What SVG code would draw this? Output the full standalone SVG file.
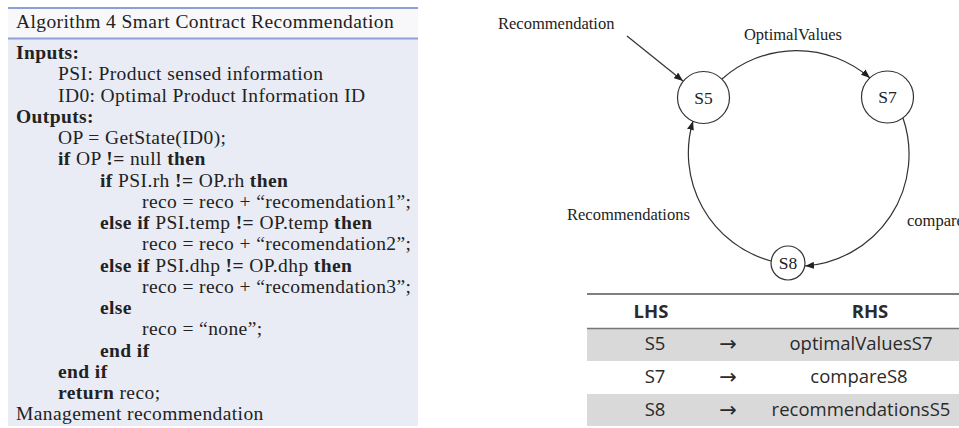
<svg xmlns="http://www.w3.org/2000/svg" width="959" height="428" viewBox="0 0 959 428">
  <style>
    .alg { font-family: "Liberation Serif", "Times New Roman", serif; font-size: 19.5px; letter-spacing: 0.4px; fill: #222; }
    .b { font-weight: bold; }
    .rule { stroke: #8c9fd6; stroke-width: 2; }
    .node circle { fill: #fff; stroke: #333; stroke-width: 1.2; }
    .lbl { font-family: "Liberation Serif", "Times New Roman", serif; font-size: 16.5px; fill: #222; }
    .state { font-family: "Liberation Serif", "Times New Roman", serif; font-size: 17.5px; fill: #222; text-anchor: middle; }
    .conn { fill: none; stroke: #333; stroke-width: 1.2; }
    .tbl { font-family: "Open Sans", "DejaVu Sans", sans-serif; font-size: 18.5px; fill: #2a2a2a; text-anchor: middle; }
    .arr { font-family: "DejaVu Sans", sans-serif; font-size: 21px; fill: #2a2a2a; text-anchor: middle; }
  </style>
  <defs>
    <marker id="arrow" markerWidth="9" markerHeight="7" refX="9" refY="3.5" orient="auto" markerUnits="userSpaceOnUse">
      <path d="M0,0 L9,3.5 L0,7 z" fill="#222"/>
    </marker>
  </defs>

  <rect width="959" height="428" fill="#fff"/>

  <!-- Algorithm box -->
  <g id="algorithm">
    <rect x="8" y="8" width="410" height="31" fill="#f8f8fa"/>
    <rect x="8" y="39" width="410" height="387" fill="#e9ecf5"/>
    <line class="rule" x1="8" y1="8" x2="418" y2="8"/>
    <line class="rule" x1="8" y1="38.5" x2="418" y2="38.5"/>
    <text class="alg" x="16" y="28">Algorithm 4 Smart Contract Recommendation</text>
    <text class="alg b" x="16" y="59">Inputs:</text>
    <text class="alg" x="58" y="80.25">PSI: Product sensed information</text>
    <text class="alg" x="58" y="101.5">ID0: Optimal Product Information ID</text>
    <text class="alg b" x="16" y="122.75">Outputs:</text>
    <text class="alg" x="58" y="144">OP = GetState(ID0);</text>
    <text class="alg" x="58" y="165.25"><tspan class="b">if</tspan> OP <tspan class="b">!=</tspan> null <tspan class="b">then</tspan></text>
    <text class="alg" x="100" y="186.5"><tspan class="b">if</tspan> PSI.rh <tspan class="b">!=</tspan> OP.rh <tspan class="b">then</tspan></text>
    <text class="alg" x="142" y="207.75">reco = reco + “recomendation1”;</text>
    <text class="alg" x="100" y="229"><tspan class="b">else if</tspan> PSI.temp <tspan class="b">!=</tspan> OP.temp <tspan class="b">then</tspan></text>
    <text class="alg" x="142" y="250.25">reco = reco + “recomendation2”;</text>
    <text class="alg" x="100" y="271.5"><tspan class="b">else if</tspan> PSI.dhp <tspan class="b">!=</tspan> OP.dhp <tspan class="b">then</tspan></text>
    <text class="alg" x="142" y="292.75">reco = reco + “recomendation3”;</text>
    <text class="alg b" x="100" y="314">else</text>
    <text class="alg" x="142" y="335.25">reco = “none”;</text>
    <text class="alg b" x="100" y="356.5">end if</text>
    <text class="alg b" x="58" y="377.75">end if</text>
    <text class="alg" x="58" y="399"><tspan class="b">return</tspan> reco;</text>
    <text class="alg" x="16" y="420.25">Management recommendation</text>
  </g>

  <!-- State machine connectors -->
  <g id="connectors">
    <line class="conn" x1="627" y1="36" x2="683" y2="81" marker-end="url(#arrow)"/>
    <path class="conn" d="M722,79 A112,112 0 0 1 870,78" marker-end="url(#arrow)"/>
    <path class="conn" d="M903,118 A112,112 0 0 1 805,266" marker-end="url(#arrow)"/>
    <path class="conn" d="M771,261 A112,112 0 0 1 693,121" marker-end="url(#arrow)"/>
    <text class="lbl" x="498" y="29">Recommendation</text>
    <text class="lbl" x="793" y="40" text-anchor="middle">OptimalValues</text>
    <text class="lbl" x="567" y="220">Recommendations</text>
    <text class="lbl" x="907" y="226">compare</text>
  </g>

  <g id="S5" class="node">
    <circle cx="703.5" cy="97.5" r="26"/>
    <text class="state" x="703.5" y="103.5">S5</text>
  </g>
  <g id="S7" class="node">
    <circle cx="887.5" cy="97" r="26"/>
    <text class="state" x="887.5" y="103">S7</text>
  </g>
  <g id="S8" class="node">
    <circle cx="788" cy="263" r="17"/>
    <text class="state" x="788" y="269">S8</text>
  </g>

  <!-- Production rules table -->
  <g id="rules-table">
    <rect x="587" y="329" width="372" height="32" fill="#d9d9d9"/>
    <rect x="587" y="394" width="372" height="32" fill="#d9d9d9"/>
    <line x1="587" y1="294" x2="959" y2="294" stroke="#555" stroke-width="1.5"/>
    <line x1="587" y1="328.5" x2="959" y2="328.5" stroke="#777" stroke-width="1.5"/>
    <text class="tbl" x="651" y="318" font-weight="bold">LHS</text>
    <text class="tbl" x="870" y="318" font-weight="bold">RHS</text>
    <text class="tbl" x="655" y="350">S5</text>
    <text class="arr" x="728" y="351">→</text>
    <text class="tbl" x="861" y="350">optimalValuesS7</text>
    <text class="tbl" x="655" y="383">S7</text>
    <text class="arr" x="728" y="384">→</text>
    <text class="tbl" x="859" y="383">compareS8</text>
    <text class="tbl" x="655" y="416">S8</text>
    <text class="arr" x="728" y="417">→</text>
    <text class="tbl" x="861" y="416">recommendationsS5</text>
  </g>
</svg>
